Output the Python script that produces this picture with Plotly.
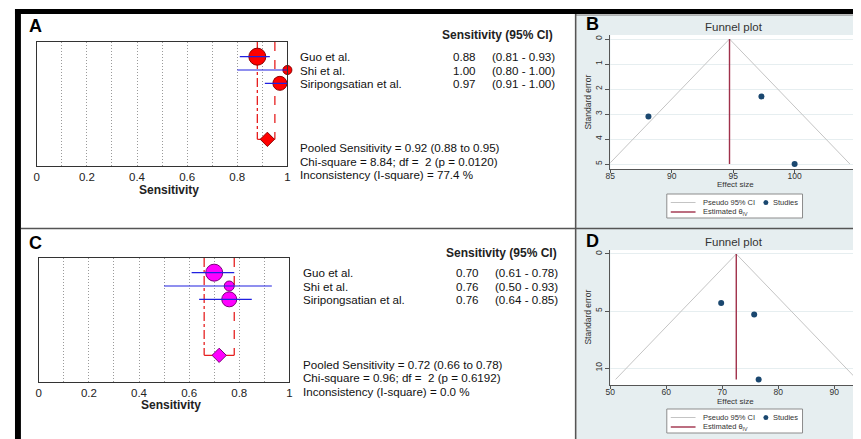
import plotly.graph_objects as go

# The page body has an 8 px margin, so the figure is drawn 8 px in and sized to fill the window.
PAGE_W, PAGE_H, BODY = 861, 439, 8
W, H = PAGE_W - BODY, PAGE_H - BODY


def px(x):
    return (x - BODY) / W


def py(y):
    return 1 - (y - BODY) / H


FONT = "Liberation Sans, Arial, sans-serif"

# ---------------- data ----------------
studies = ["Guo et al.", "Shi et al.", "Siripongsatian et al."]

# Panel A (forest plot)
sens_a = [0.88, 1.00, 0.97]
low_a = [0.81, 0.80, 0.91]
high_a = [0.93, 1.00, 1.00]
pooled_a = 0.92
pooled_low_a = 0.88
pooled_high_a = 0.95
chi2_a = 8.84
df_a = 2
p_a = 0.0120
i2_a = 77.4

# Panel C (forest plot)
sens_c = [0.70, 0.76, 0.76]
low_c = [0.61, 0.50, 0.64]
high_c = [0.78, 0.93, 0.85]
pooled_c = 0.72
pooled_low_c = 0.66
pooled_high_c = 0.78
chi2_c = 0.96
df_c = 2
p_c = 0.6192
i2_c = 0.0

# Panel B (funnel plot)
effect_b = [88.1, 97.3, 100.0]
se_b = [3.1, 2.3, 5.0]
theta_b = 94.7

# Panel D (funnel plot)
effect_d = [69.8, 75.7, 76.5]
se_d = [4.3, 5.3, 11.0]
theta_d = 72.5

forest_tickvals = [0, 0.2, 0.4, 0.6, 0.8, 1.0]
forest_ticktext = ["0", "0.2", "0.4", "0.6", "0.8", "1"]
funnel_b_xticks = [85, 90, 95, 100, 105]
funnel_b_yticks = [0, 1, 2, 3, 4, 5]
funnel_d_xticks = [50, 60, 70, 80, 90]
funnel_d_yticks = [0, 5, 10]

# ---------------- styles ----------------
sizes_a = [17, 9, 14]
sizes_c = [17, 10, 15]
POOLED_ROW = 6.2
ROW_TOP = -1.1
ROW_BOTTOM = 8.2
BG = "#E6EEF0"
NAVY = "#1A476F"
MAROON = "#A0304A"
FUNNEL_GREY = "#C4C4C4"
BRACKET = "#E62020"
GRID = "#9A9A9A"

fig = go.Figure()


def add_forest(xa, ya, sens, low, high, plo, phi, pooled, fill, edge, sizes):
    rows = list(range(len(sens)))
    # pooled CI bracket
    fig.add_trace(go.Scatter(x=[plo, plo], y=[ROW_TOP, POOLED_ROW], mode="lines",
                             line=dict(color=BRACKET, width=1.3, dash="dashdot"),
                             xaxis=xa, yaxis=ya, showlegend=False, hoverinfo="skip"))
    fig.add_trace(go.Scatter(x=[phi, phi], y=[ROW_TOP, POOLED_ROW], mode="lines",
                             line=dict(color=BRACKET, width=1.3, dash="dash"),
                             xaxis=xa, yaxis=ya, showlegend=False, hoverinfo="skip"))
    fig.add_trace(go.Scatter(x=[plo, phi], y=[POOLED_ROW, POOLED_ROW], mode="lines",
                             line=dict(color=BRACKET, width=1.3),
                             xaxis=xa, yaxis=ya, showlegend=False, hoverinfo="skip"))
    # study markers
    fig.add_trace(go.Scatter(x=sens, y=rows, mode="markers", cliponaxis=False, opacity=1,
                             marker=dict(size=sizes, color=fill, opacity=1,
                                         line=dict(color=edge, width=1)),
                             xaxis=xa, yaxis=ya, showlegend=False))
    # CI lines
    lx, ly = [], []
    for r, lo, hi in zip(rows, low, high):
        lx += [lo, hi, None]
        ly += [r, r, None]
    fig.add_trace(go.Scatter(x=lx, y=ly, mode="lines", cliponaxis=False,
                             line=dict(color="#2020E0", width=1.2),
                             xaxis=xa, yaxis=ya, showlegend=False, hoverinfo="skip"))
    # pooled diamond
    fig.add_trace(go.Scatter(x=[pooled], y=[POOLED_ROW], mode="markers", cliponaxis=False,
                             opacity=1,
                             marker=dict(symbol="diamond", size=11, color=fill, opacity=1,
                                         line=dict(color=edge, width=1)),
                             xaxis=xa, yaxis=ya, showlegend=False))


add_forest("x", "y", sens_a, low_a, high_a, pooled_low_a, pooled_high_a, pooled_a,
           "#FF0000", "#8B0000", sizes_a)
add_forest("x2", "y2", sens_c, low_c, high_c, pooled_low_c, pooled_high_c, pooled_c,
           "#FF00FF", "#7A007A", sizes_c)


def add_funnel(xa, ya, effect, se, theta):
    smax = max(se)
    fig.add_trace(go.Scatter(x=[theta - 1.96 * smax, theta, theta + 1.96 * smax],
                             y=[smax, 0, smax], mode="lines",
                             line=dict(color=FUNNEL_GREY, width=1),
                             xaxis=xa, yaxis=ya, showlegend=False, hoverinfo="skip"))
    fig.add_trace(go.Scatter(x=[theta, theta], y=[0, smax], mode="lines",
                             line=dict(color=MAROON, width=1.4),
                             xaxis=xa, yaxis=ya, showlegend=False, hoverinfo="skip"))
    fig.add_trace(go.Scatter(x=effect, y=se, mode="markers", cliponaxis=False,
                             marker=dict(size=6, color=NAVY),
                             xaxis=xa, yaxis=ya, showlegend=False))


add_funnel("x3", "y3", effect_b, se_b, theta_b)
add_funnel("x4", "y4", effect_d, se_d, theta_d)

forest_x = dict(range=[0, 1], tickvals=forest_tickvals, ticktext=forest_ticktext,
                showgrid=True, gridcolor=GRID, griddash="1px,2px", gridwidth=1,
                minor=dict(tick0=0, dtick=0.1, showgrid=True, gridcolor=GRID,
                           griddash="1px,2px", gridwidth=1, ticks=""),
                showline=True, mirror=True, linecolor="#333333", linewidth=1,
                zeroline=False, ticks="", tickfont=dict(family=FONT, size=11.5, color="#222"),
                fixedrange=True)
forest_y = dict(range=[ROW_BOTTOM, ROW_TOP], showgrid=False, zeroline=False,
                showticklabels=False, showline=True, mirror=True,
                linecolor="#333333", linewidth=1, ticks="", fixedrange=True)

funnel_common_x = dict(showgrid=False, zeroline=False, showline=True, linecolor="#555",
                       linewidth=1, ticks="outside", ticklen=3, tickcolor="#555",
                       ticklabelstandoff=-4,
                       tickfont=dict(family=FONT, size=8.5, color="#333"))
funnel_common_y = dict(showgrid=True, gridcolor=BG, gridwidth=1, zeroline=False,
                       showline=True, linecolor="#555", linewidth=1, ticks="outside",
                       ticklen=4, tickcolor="#555", tickangle=-90,
                       tickfont=dict(family=FONT, size=8.5, color="#333"))

fig.update_layout(
    width=W, height=H, autosize=False,
    margin=dict(l=0, r=0, t=0, b=0),
    paper_bgcolor="white", plot_bgcolor="rgba(0,0,0,0)",
    showlegend=False,
    xaxis=dict(domain=[px(32), px(285)], anchor="y", **forest_x),
    yaxis=dict(domain=[py(166), py(42)], anchor="x", **forest_y),
    xaxis2=dict(domain=[px(34), px(287)], anchor="y2", **forest_x),
    yaxis2=dict(domain=[py(382), py(258)], anchor="x2", **forest_y),
    xaxis3=dict(domain=[px(611), 1], anchor="y3", range=[85, 105.16],
                tickvals=funnel_b_xticks, **funnel_common_x),
    yaxis3=dict(domain=[py(169), py(35)], anchor="x3", range=[5.2, -0.16],
                tickvals=funnel_b_yticks, **funnel_common_y),
    xaxis4=dict(domain=[px(611), 1], anchor="y4", range=[50, 94.25],
                tickvals=funnel_d_xticks, **funnel_common_x),
    yaxis4=dict(domain=[py(385), py(250)], anchor="x4", range=[11.49, -0.35],
                tickvals=funnel_d_yticks, **funnel_common_y),
)

shapes = []


def rect(x0, y0, x1, y1, fill, line=None, layer="below", lw=1):
    shapes.append(dict(type="rect", xref="paper", yref="paper",
                       x0=px(x0), x1=px(x1), y0=py(y1), y1=py(y0),
                       fillcolor=fill, layer=layer,
                       line=dict(width=lw if line else 0, color=line or fill)))


def line(x0, y0, x1, y1, color, width=1, layer="above"):
    shapes.append(dict(type="line", xref="paper", yref="paper",
                       x0=px(x0), x1=px(x1), y0=py(y0), y1=py(y1),
                       layer=layer, line=dict(color=color, width=width)))


# right-hand panel backgrounds and white plot regions
rect(577, 15, PAGE_W, 228, BG)
rect(577, 229, PAGE_W, PAGE_H, BG)
rect(611, 35, PAGE_W, 169, "white")
rect(611, 250, PAGE_W, 385, "white")

# frame lines
rect(10, 9, PAGE_W, 14, "black", layer="above")
rect(10, 9, 16, PAGE_H, "black", layer="above")
line(576, 15, PAGE_W, 15, "#777", 1)
line(576, 14, 576, PAGE_H, "#555", 1.6)
line(16, 228.5, PAGE_W, 228.5, "#555", 1.6)

annotations = []


def text(x, y, s, size=11.6, anchor="left", bold=False, color="#111", yref="paper",
         angle=0, family=FONT):
    annotations.append(dict(
        x=px(x), y=(py(y) if yref == "paper" else y), xref="paper", yref=yref,
        text=(f"<b>{s}</b>" if bold else s), showarrow=False, xanchor=anchor,
        yanchor="middle", textangle=angle,
        font=dict(family=family, size=size, color=color)))


def forest_text(yref, name_x, val_x, ci_x, header_cx, header_y, pooled_ys, title_cx, title_y,
                letter, letter_y, sens, low, high, pooled, plo, phi, chi2, df, p, i2):
    text(22, letter_y, letter, size=18, bold=True, color="black")
    text(header_cx, header_y, "Sensitivity (95% CI)", size=12, anchor="center", bold=True,
         color="#222")
    for r, (nm, s, lo, hi) in enumerate(zip(studies, sens, low, high)):
        text(name_x, r, nm, yref=yref)
        text(val_x, r, f"{s:.2f}", anchor="right", yref=yref)
        text(ci_x, r, f"({lo:.2f} - {hi:.2f})", yref=yref)
    text(name_x, pooled_ys[0], f"Pooled Sensitivity = {pooled:.2f} ({plo:.2f} to {phi:.2f})")
    text(name_x, pooled_ys[1], f"Chi-square = {chi2:.2f}; df =\u00a0 {df} (p = {p:.4f})")
    text(name_x, pooled_ys[2], f"Inconsistency (I-square) = {i2:.1f} %")
    text(title_cx, title_y, "Sensitivity", size=12, anchor="center", bold=True, color="#222")


forest_text("y", 296, 477, 490, 497.5, 35, [147, 161, 174.5], 165, 190, "A", 26,
            sens_a, low_a, high_a, pooled_a, pooled_low_a, pooled_high_a,
            chi2_a, df_a, p_a, i2_a)
forest_text("y2", 299, 480, 493, 501, 253, [364, 377.5, 391], 167, 405, "C", 243,
            sens_c, low_c, high_c, pooled_c, pooled_low_c, pooled_high_c,
            chi2_c, df_c, p_c, i2_c)


def funnel_text(letter, letter_y, title_y, se_y, eff_y, leg_top):
    text(584, letter_y, letter, size=18, bold=True, color="black")
    text(736, title_y, "Funnel plot", size=11.5, anchor="center", color="#333")
    text(588, se_y, "Standard error", size=8.5, anchor="center", color="#333", angle=-90)
    text(737, eff_y, "Effect size", size=8, anchor="center", color="#333")
    # legend
    rect(668, leg_top, 805, leg_top + 24, "white", line="#8C8C8C", layer="above")
    r1, r2 = leg_top + 8.5, leg_top + 18
    line(672, r1, 697, r1, FUNNEL_GREY, 1)
    line(672, r2, 697, r2, MAROON, 1.4)
    shapes.append(dict(type="circle", xref="paper", yref="paper",
                       x0=px(765.5), x1=px(770.5), y0=py(r1 + 2.5), y1=py(r1 - 2.5),
                       fillcolor=NAVY, line=dict(width=0), layer="above"))
    text(703, r1, "Pseudo 95% CI", size=7.5, color="#333")
    text(773, r1, "Studies", size=7.5, color="#333")
    text(703, r2, "Estimated θ<sub>IV</sub>", size=7.5, color="#333")


funnel_text("B", 24, 27, 102, 185, 194)
funnel_text("D", 241, 242, 317, 401, 409)

fig.update_layout(shapes=shapes, annotations=annotations)
fig.write_html("out.html")
